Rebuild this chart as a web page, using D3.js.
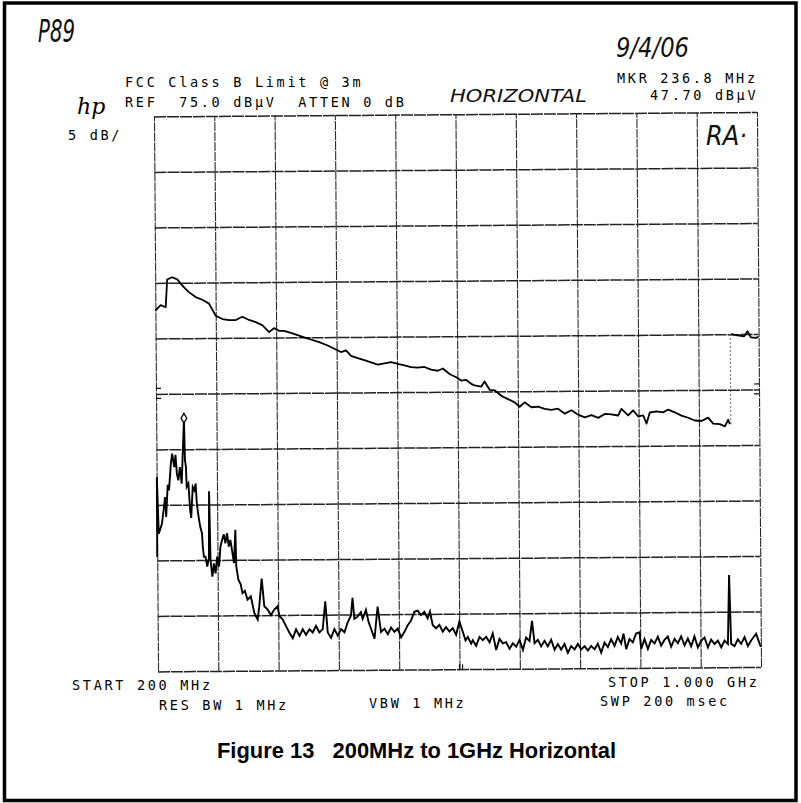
<!DOCTYPE html>
<html>
<head>
<meta charset="utf-8">
<script src="https://cdn.jsdelivr.net/npm/d3@7"></script>
<style>
    body { margin: 0; background: #fff; }
    svg { display: block; }
</style>
</head>
<body>
<div id="chart"></div>
<script>
(function () {
    'use strict';

    // analyzer settings: 200 MHz - 1 GHz span, ref 75 dBuV, 5 dB/div
    var freqTicksMHz = [200, 280, 360, 440, 520, 600, 680, 760, 840, 920, 1000];
    var levelTicksDb = [25, 30, 35, 40, 45, 50, 55, 60, 65, 70, 75];

    // upper trace: stored limit line (below 960 MHz)
    var limitTrace = [
        [200, 57.5], [207, 58.0], [213.7, 57.8], [215.9, 60.3], [222.6, 60.5], [229.2, 60.3],
        [237.9, 59.6], [244.6, 59.15], [253.5, 58.7], [262.4, 58.45], [271.2, 58.1], [280, 57.0],
        [288.9, 56.7], [297.6, 56.6], [306.5, 56.6], [315.4, 56.9], [324.2, 56.6], [333.1, 56.4],
        [342, 56.1], [350.7, 55.5], [357.3, 55.85], [364, 55.6], [370.6, 55.6], [379.5, 55.4],
        [388.4, 55.2], [397.1, 55.0], [406, 54.8], [417, 54.55], [428.2, 54.25], [437, 53.95],
        [445.8, 53.65], [452.5, 53.8], [459.1, 53.3], [468, 53.1], [476.7, 52.9], [485.6, 52.7],
        [494.5, 52.5], [503.3, 52.6], [512.2, 52.7], [521, 52.55], [529.8, 52.4], [538.7, 52.25],
        [547.6, 52.2], [556.3, 52.25], [565.2, 52.0], [574.1, 51.9], [580.8, 52.1], [589.5, 51.6],
        [598.4, 51.3], [605, 51.0], [611.7, 51.05], [618.3, 50.7], [622.7, 50.55], [631.6, 50.45],
        [636, 50.9], [642.6, 50.15], [649.2, 50.1], [658.1, 49.6], [667, 49.3], [675.7, 49.0],
        [682.4, 48.6], [689, 49.0], [697.9, 48.55], [706.8, 48.6], [715.5, 48.4], [724.4, 48.3],
        [733.3, 48.4], [742.1, 47.95], [751, 48.25], [759.8, 47.85], [768.6, 47.6], [777.5, 47.8],
        [786.4, 47.55], [795.2, 47.9], [804, 47.85], [812.9, 47.75], [817.3, 48.35], [826.2, 47.75],
        [832.8, 48.2], [839.5, 47.65], [846.1, 47.75], [850.5, 47.0], [854.9, 48.0], [863.8, 48.1],
        [872.6, 48.0], [879.3, 48.25], [888, 48.0], [896.9, 47.7], [905.8, 47.5], [914.5, 47.25],
        [923.4, 47.2], [932.3, 47.5], [938.9, 46.95], [947.7, 46.9], [954.4, 46.7], [958.9, 47.3],
        [961, 46.9]
    ];

    // upper trace above 960 MHz
    var limitHighTrace = [
        [963.2, 55.0], [972.1, 54.9], [980.8, 54.8], [985.3, 55.25], [989.7, 54.7],
        [996.3, 54.65], [1000, 54.75]
    ];

    // lower trace: measured emissions
    var emissionTrace = [
        [200, 35.3], [200.3, 42.5], [202.3, 37.4], [206.6, 38.3], [208.9, 39.5], [211, 40.7],
        [212.3, 38.9], [214.6, 41.8], [216.3, 41.3], [219, 43.7], [220.8, 44.6], [223.5, 43.4],
        [225.2, 44.5], [226.9, 42.8], [228.8, 42.2], [230.9, 43.4], [233.2, 41.9], [236.8, 47.7],
        [237.8, 44.0], [239, 43.4], [239.8, 41.6], [242.1, 41.9], [244.2, 39.5], [245.5, 38.8],
        [247.8, 41.6], [250, 41.3], [251.7, 41.9], [253.1, 40.1], [255.3, 38.9], [257.4, 38.0],
        [259.7, 37.4], [260.6, 36.2], [262, 35.3], [264.1, 35.3], [266.3, 34.4], [268.6, 35.2],
        [269.4, 41.2], [270.7, 35.0], [273, 33.5], [275.2, 34.7], [277.3, 33.8], [279.6, 35.3],
        [281.9, 34.4], [284, 36.2], [286.2, 36.8], [288.5, 37.3], [290.6, 36.5], [292.9, 37.4],
        [295.1, 36.2], [297.2, 36.8], [298.6, 36.2], [301.8, 34.7], [303.9, 37.7], [304.8, 34.4],
        [307.5, 33.2], [310.5, 32.8], [312.8, 32.0], [316, 32.2], [319.4, 31.4], [323.8, 31.7],
        [328.3, 30.2], [332.7, 29.6], [334.9, 30.8], [338.4, 33.3], [341.6, 30.8], [346, 30.5],
        [350.3, 30.0], [354.8, 30.5], [359.2, 30.8], [361.5, 29.9], [365.8, 29.6], [370.2, 29.0],
        [374.7, 28.4], [379.1, 27.9], [383.5, 28.7], [388, 28.1], [392.4, 28.7], [396.7, 28.2],
        [401.3, 28.7], [405.6, 28.4], [410, 29.0], [414.5, 28.4], [418.9, 28.7], [422.5, 31.2],
        [425.5, 28.4], [429.9, 27.9], [434.4, 28.7], [438.8, 28.1], [443.2, 28.7], [447.7, 28.4],
        [452.1, 29.3], [456.5, 29.9], [458.7, 31.5], [461, 29.6], [465.3, 29.8], [469.7, 30.2],
        [472, 29.6], [476.4, 30.4], [479.9, 29.3], [483, 28.7], [487.5, 27.8], [491.9, 30.7],
        [496.2, 28.4], [500.8, 28.7], [505.2, 28.2], [509.5, 28.8], [514, 28.4], [518.4, 28.7],
        [522.8, 27.9], [527.3, 28.4], [531.7, 29.0], [536, 29.4], [540.6, 30.2], [545, 30.3],
        [549.3, 29.9], [553.8, 30.2], [558.2, 29.6], [561.3, 30.2], [564.8, 29.0], [569.2, 28.7],
        [573.7, 29.0], [578.1, 28.4], [582.5, 28.8], [587, 28.4], [591.4, 28.7], [595.8, 28.1],
        [600.3, 29.3], [604.6, 28.4], [608.2, 27.6], [611.3, 27.9], [615.6, 27.3], [617.9, 27.6],
        [622.3, 27.1], [626.8, 27.9], [631.2, 27.6], [635.6, 27.9], [640.1, 27.4], [644.4, 28.2],
        [648.8, 26.7], [653.3, 27.7], [657.7, 27.3], [662.1, 27.4], [666.6, 26.8], [671, 27.3],
        [675.4, 27.0], [679.9, 27.6], [684.3, 26.7], [688.6, 27.8], [693.1, 27.5], [696.6, 29.3],
        [699.8, 27.3], [704.2, 27.6], [708.5, 27.0], [713, 27.5], [717.4, 27.0], [721.8, 27.6],
        [726.3, 26.7], [730.7, 27.2], [735, 26.7], [739.5, 27.2], [743.9, 26.4], [748.3, 27.0],
        [752.8, 26.7], [757.2, 27.2], [761.6, 26.7], [766.1, 27.0], [770.5, 26.6], [774.9, 27.0],
        [779.4, 26.7], [783.7, 27.2], [788.1, 26.4], [792.6, 27.3], [797, 26.9], [801.4, 27.6],
        [805.9, 27.0], [810.3, 27.8], [814.7, 27.2], [817.9, 28.1], [821.3, 26.7], [825.8, 27.6],
        [830.2, 27.3], [834.6, 28.1], [839.1, 28.2], [841.2, 26.7], [845.7, 27.6], [850.1, 26.7],
        [854.5, 27.5], [859, 27.2], [863.4, 27.8], [867.7, 27.0], [872.2, 27.5], [876.6, 27.8],
        [881, 26.9], [885.5, 27.6], [889.9, 27.2], [894.3, 27.8], [898.8, 27.0], [903.2, 27.6],
        [907.5, 26.9], [912, 27.8], [916.4, 26.8], [920.8, 27.4], [925.3, 27.7], [929.7, 26.8],
        [934.1, 27.5], [938.6, 27.1], [943, 27.4], [947.4, 26.8], [951.9, 27.4], [956.3, 27.1],
        [958.5, 33.3], [960.6, 27.1], [965.1, 26.9], [969.5, 27.5], [973.9, 27.1], [978.4, 27.7],
        [982.8, 26.9], [987.1, 27.4], [991.6, 27.8], [993.8, 28.0], [998.3, 27.1], [1000, 26.8]
    ];

    var marker = { freq: 236.8, level: 47.7 };
    var refMarksDb = [50.5, 49.6];
    var bottomMarksMHz = [600, 604];

    var headerLines = ['FCC Class B Limit @ 3m', 'REF  75.0 dB\u00b5V  ATTEN 0 dB'];
    var markerLines = ['MKR 236.8 MHz', '47.70 dB\u00b5V'];
    var scaleLabel = '5 dB/';
    var footerLabels = ['START 200 MHz', 'RES BW 1 MHz', 'VBW 1 MHz', 'STOP 1.000 GHz', 'SWP 200 msec'];
    var caption = 'Figure 13   200MHz to 1GHz Horizontal';

    var width = 801;
    var height = 803;

    // grid geometry (the scan is slightly rotated)
    var gridW = 603;
    var gridH = 555;
    var cx = 457.5;
    var cy = 391.7;
    var x0 = cx - gridW / 2;
    var y0 = cy - gridH / 2;

    var monoFont = '"DejaVu Sans Mono", "Liberation Mono", monospace';
    var handFont = '"DejaVu Sans ExtraLight", "DejaVu Sans", sans-serif';

    var svg = d3.select('#chart').append('svg')
        .attr('width', width)
        .attr('height', height);

    // page frame
    svg.append('rect')
        .attr('x', 4.5)
        .attr('y', 3)
        .attr('width', 791.5)
        .attr('height', 797.5)
        .attr('fill', 'none')
        .attr('stroke', '#000')
        .attr('stroke-width', 3.5);

    var x = d3.scaleLinear().domain([200, 1000]).range([x0, x0 + gridW]);
    var y = d3.scaleLinear().domain([25, 75]).range([y0 + gridH, y0]);

    var plot = svg.append('g')
        .attr('transform', 'rotate(-0.42,' + cx + ',' + cy + ')');

    // graticule drawn with axes
    var xGrid = plot.append('g')
        .attr('transform', 'translate(0,' + (y0 + gridH) + ')')
        .call(d3.axisBottom(x).tickValues(freqTicksMHz).tickSize(-gridH).tickFormat(''));
    xGrid.select('.domain').remove();
    xGrid.selectAll('line')
        .attr('stroke', '#2a2a2a')
        .attr('stroke-width', 1.1)
        .attr('stroke-dasharray', '9,1');

    var yGrid = plot.append('g')
        .attr('transform', 'translate(' + x0 + ',0)')
        .call(d3.axisLeft(y).tickValues(levelTicksDb).tickSize(-gridW).tickFormat(''));
    yGrid.select('.domain').remove();
    yGrid.selectAll('line')
        .attr('stroke', '#222')
        .attr('stroke-width', 1.5)
        .attr('stroke-dasharray', '12,1');

    // reference level marks at both edges
    refMarksDb.forEach(function (db) {
        plot.append('line')
            .attr('x1', x(200)).attr('x2', x(200) + 5)
            .attr('y1', y(db)).attr('y2', y(db))
            .attr('stroke', '#111').attr('stroke-width', 1.2);
        plot.append('line')
            .attr('x1', x(1000) - 5).attr('x2', x(1000))
            .attr('y1', y(db)).attr('y2', y(db))
            .attr('stroke', '#111').attr('stroke-width', 1.2);
    });

    bottomMarksMHz.forEach(function (f) {
        plot.append('line')
            .attr('x1', x(f)).attr('x2', x(f))
            .attr('y1', y(25)).attr('y2', y(25) - 5)
            .attr('stroke', '#111').attr('stroke-width', 1.2);
    });

    var line = d3.line()
        .x(function (d) { return x(d[0]); })
        .y(function (d) { return y(d[1]); });

    plot.append('path')
        .datum(limitTrace)
        .attr('d', line)
        .attr('fill', 'none')
        .attr('stroke', '#000')
        .attr('stroke-width', 1.8)
        .attr('stroke-linejoin', 'round');

    plot.append('path')
        .datum(limitHighTrace)
        .attr('d', line)
        .attr('fill', 'none')
        .attr('stroke', '#000')
        .attr('stroke-width', 1.8)
        .attr('stroke-linejoin', 'round');

    // faint jump between the two limit segments
    var lastLow = limitTrace[limitTrace.length - 1];
    var firstHigh = limitHighTrace[0];
    plot.append('line')
        .attr('x1', x(lastLow[0]) + 1).attr('x2', x(lastLow[0]) + 1)
        .attr('y1', y(lastLow[1])).attr('y2', y(firstHigh[1]))
        .attr('stroke', '#555')
        .attr('stroke-width', 0.9)
        .attr('stroke-dasharray', '2,2');

    plot.append('path')
        .datum(emissionTrace)
        .attr('d', line)
        .attr('fill', 'none')
        .attr('stroke', '#000')
        .attr('stroke-width', 1.9)
        .attr('stroke-linejoin', 'miter');

    plot.append('path')
        .attr('d', d3.symbol().type(d3.symbolDiamond).size(28)())
        .attr('transform', 'translate(' + x(marker.freq) + ',' + (y(marker.level) - 1) + ')')
        .attr('fill', '#fff')
        .attr('stroke', '#000')
        .attr('stroke-width', 1.3);

    // instrument annotations
    function monoText(str, left, base) {
        svg.append('text')
            .attr('x', left)
            .attr('y', base)
            .attr('font-family', monoFont)
            .attr('font-size', 13.5)
            .attr('letter-spacing', 2.7)
            .attr('fill', '#000')
            .style('white-space', 'pre')
            .text(str);
    }

    monoText(headerLines[0], 125, 87);
    monoText(headerLines[1], 125, 107);
    monoText(markerLines[0], 617, 83);
    monoText(markerLines[1], 650, 100);
    monoText(scaleLabel, 68, 140);
    monoText(footerLabels[0], 72, 690);
    monoText(footerLabels[1], 159, 710);
    monoText(footerLabels[2], 369, 708);
    monoText(footerLabels[3], 608, 687);
    monoText(footerLabels[4], 600, 706);

    // hp logo
    svg.append('text')
        .attr('x', 77)
        .attr('y', 114)
        .attr('font-family', '"DejaVu Serif", serif')
        .attr('font-style', 'italic')
        .attr('font-size', 22)
        .attr('fill', '#000')
        .text('hp');

    // handwritten notes
    function handText(str, left, base, size, len) {
        svg.append('text')
            .attr('x', left)
            .attr('y', base)
            .attr('font-family', handFont)
            .attr('font-weight', 200)
            .attr('font-style', 'italic')
            .attr('font-size', size)
            .attr('textLength', len)
            .attr('lengthAdjust', 'spacingAndGlyphs')
            .attr('fill', '#111')
            .text(str);
    }

    handText('P89', 38, 42, 32, 37);
    handText('9/4/06', 616, 57, 26, 73);
    handText('HORIZONTAL', 450, 102, 18, 137);
    handText('RA\u00b7', 706, 145, 26, 41);

    svg.append('text')
        .attr('x', 217)
        .attr('y', 758)
        .attr('font-family', '"Liberation Sans", Arial, sans-serif')
        .attr('font-weight', 'bold')
        .attr('font-size', 22)
        .attr('textLength', 399)
        .attr('lengthAdjust', 'spacingAndGlyphs')
        .attr('fill', '#000')
        .style('white-space', 'pre')
        .text(caption);
})();
</script>
</body>
</html>
